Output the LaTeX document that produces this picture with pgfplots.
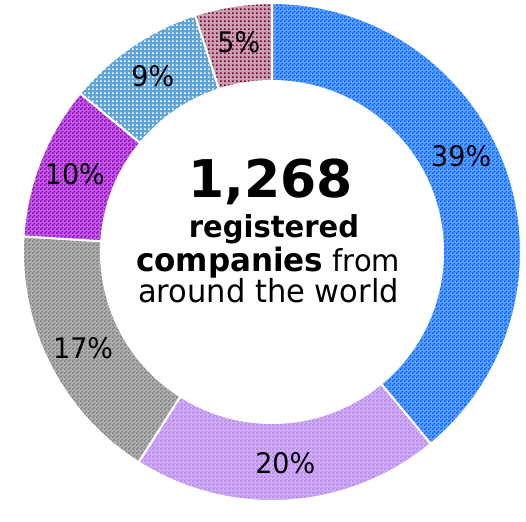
\documentclass[border=0pt]{standalone}
\usepackage{pgfplots}
\pgfplotsset{compat=1.18}
\usepackage{pgfplotstable}
\usepackage{fontspec}
\setmainfont{DejaVu Sans}
\usetikzlibrary{patterns.meta}

\definecolor{cBlue}{RGB}{0,102,255}
\definecolor{cLav}{RGB}{180,128,240}
\definecolor{cGray}{RGB}{128,128,128}
\definecolor{cPurp}{RGB}{153,0,204}
\definecolor{cLBlue}{RGB}{102,178,240}
\definecolor{cMar}{RGB}{112,0,48}

\pgfdeclarepattern{
  name=pchk, type=uncolored,
  bottom left={\pgfpoint{0pt}{0pt}}, top right={\pgfpoint{4pt}{4pt}},
  tile size={\pgfpoint{4pt}{4pt}},
  code={\pgfpathrectangle{\pgfpointorigin}{\pgfpoint{2pt}{2pt}}
        \pgfpathrectangle{\pgfpoint{2pt}{2pt}}{\pgfpoint{2pt}{2pt}}
        \pgfusepath{fill}}}
\pgfdeclarepattern{
  name=pdot, type=uncolored,
  bottom left={\pgfpoint{0pt}{0pt}}, top right={\pgfpoint{4pt}{4pt}},
  tile size={\pgfpoint{4pt}{4pt}},
  code={\pgfpathrectangle{\pgfpointorigin}{\pgfpoint{2pt}{2pt}}
        \pgfusepath{fill}}}

\tikzset{
  seg0/.style={preaction={fill=cBlue!62!white}, draw=white, line width=2pt, pattern=pchk, pattern color=cBlue},
  seg1/.style={preaction={fill=cLav!62!white}, draw=white, line width=2pt, pattern=pchk, pattern color=cLav},
  seg2/.style={preaction={fill=cGray!62!white}, draw=white, line width=2pt, pattern=pchk, pattern color=cGray},
  seg3/.style={preaction={fill=cPurp!62!white}, draw=white, line width=2pt, pattern=pchk, pattern color=cPurp},
  seg4/.style={preaction={fill=cLBlue!92!black}, draw=white, line width=2pt, pattern=pdot, pattern color=white},
  seg5/.style={preaction={fill=cMar!38!white}, draw=white, line width=2pt, pattern=pdot, pattern color=cMar},
  lbl/.style={font=\fontsize{27}{29}\selectfont, text=black, inner sep=0pt},
}

\pgfplotstableread{
value lab
39 7
20 0
17 0
10 0
9 0
5 0
}\piedata

\begin{document}
\begin{tikzpicture}
\begin{axis}[hide axis, scale only axis, width=526pt, height=505pt,
  xmin=0, xmax=526, ymin=0, ymax=505, clip=false]
\path (axis cs:0,0) rectangle (axis cs:526,505);
\pgfmathsetmacro\cum{0}
\pgfplotsforeachungrouped \i in {0,...,5}{%
  \pgfplotstablegetelem{\i}{value}\of\piedata \let\val\pgfplotsretval
  \pgfplotstablegetelem{\i}{lab}\of\piedata \let\loff\pgfplotsretval
  \pgfmathsetmacro\aone{90-3.6*\cum}%
  \pgfmathsetmacro\atwo{90-3.6*(\cum+\val)}%
  \pgfmathsetmacro\amid{(\aone+\atwo)/2+\loff}%
  \pgfmathsetmacro\xa{272+249*cos(\aone)}%
  \pgfmathsetmacro\ya{253+249*sin(\aone)}%
  \pgfmathsetmacro\xb{272+171*cos(\atwo)}%
  \pgfmathsetmacro\yb{253+171*sin(\atwo)}%
  \pgfmathsetmacro\xl{272+212*cos(\amid)}%
  \pgfmathsetmacro\yl{253+212*sin(\amid)}%
  \edef\cmd{\noexpand\path[seg\i] (axis cs:\xa,\ya) arc[start angle=\aone, end angle=\atwo, radius=249pt] -- (axis cs:\xb,\yb) arc[start angle=\atwo, end angle=\aone, radius=171pt] -- cycle;}%
  \cmd
  \pgfmathtruncatemacro\vint{\val}%
  \edef\cmd{\noexpand\node[lbl] at (axis cs:\xl,\yl) {\noexpand\scalebox{1}[1.05]{\vint\noexpand\%}};}%
  \cmd
  \pgfmathsetmacro\cum{\cum+\val}%
}
\node[anchor=base, inner sep=0pt, font=\bfseries\fontsize{52}{54}\selectfont] at (axis cs:270.5,307) {1,268};
\node[anchor=base, inner sep=0pt, font=\bfseries\fontsize{29}{31}\selectfont] at (axis cs:274,268) {\scalebox{1}[1.04]{registered}};
\node[anchor=base, inner sep=0pt, font=\fontsize{29}{31}\selectfont] at (axis cs:268,234) {\scalebox{1}[1.04]{{\bfseries\fontsize{31}{31}\selectfont companies} from}};
\node[anchor=base, inner sep=0pt, font=\fontsize{30.5}{32}\selectfont] at (axis cs:268.5,203) {\scalebox{1}[1.04]{around the world}};
\end{axis}
\end{tikzpicture}
\end{document}
